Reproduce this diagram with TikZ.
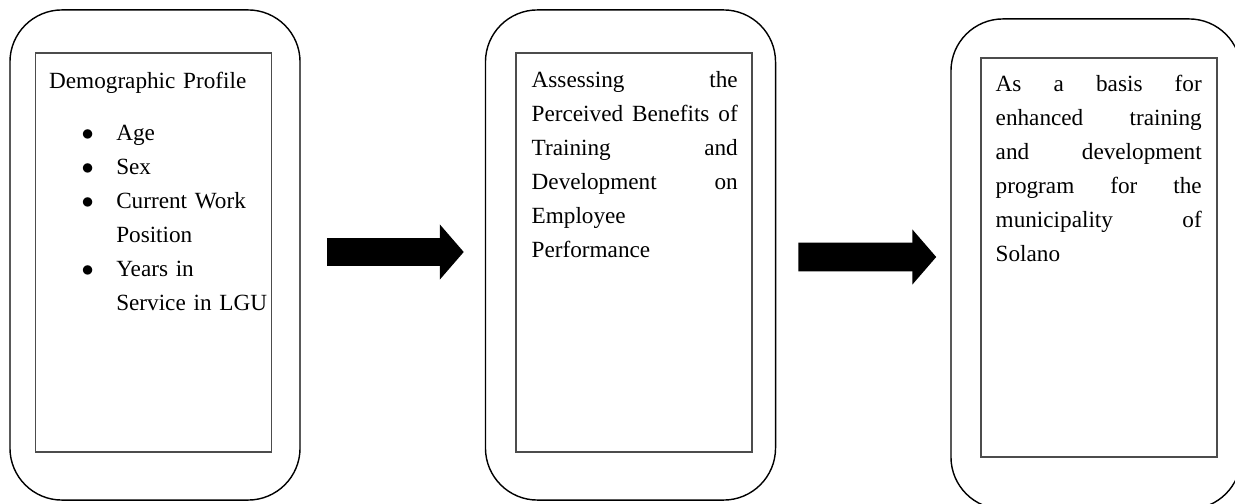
\documentclass[tikz,border=0pt]{standalone}
\usepackage{fontspec}
\setmainfont{Liberation Serif}
\usetikzlibrary{arrows.meta}
\newcommand{\bul}{\hspace*{23pt}\makebox[24.7pt][l]{$\bullet$}}
\newcommand{\cont}{\hspace*{47.7pt}}

\begin{document}
\begin{tikzpicture}[
  x=0.025cm, y=-0.025cm,
  outerbox/.style={rectangle, rounded corners=1.3cm, draw, line width=1pt,
    minimum width=7.25cm, minimum height=12.25cm},
  innerbox/.style={rectangle, draw=black!70, line width=0.8pt,
    minimum width=5.9cm, minimum height=9.975cm},
  bodytext/.style={anchor=base west, inner sep=0pt, text width=5.15cm, align=left,
    font=\fontsize{16.5}{24.2}\selectfont},
  blockarrow/.style={line width=0.72cm, -{Triangle[length=0.6cm, width=1.35cm]}}
]
\path[use as bounding box, clip] (0,0) rectangle (1235,504);

% outer frames
\node[outerbox] (demo) at (155,255) {};
\node[outerbox] (assess) at (630.5,255) {};
\node[outerbox] (basis) at (1096,264) {};

% inner frames
\node[innerbox] (demoin) at (153.5,252.5) {};
\node[innerbox] (assessin) at (634,252.5) {};
\node[innerbox] (basisin) at (1099,257.5) {};

% texts
\node[bodytext, text width=6cm] (demotext) at ([xshift=0.35cm, yshift=-0.9cm]demoin.north west)
  {Demographic Profile\\[12.8pt]
   \bul Age\\
   \bul Sex\\
   \bul Current Work\\
   \cont Position\\
   \bul Years in\\
   \cont Service in LGU};
\node[bodytext] (assesstext) at ([xshift=0.4cm, yshift=-0.875cm]assessin.north west)
  {Assessing\hfill the\\
   Perceived\hfill Benefits\hfill of\\
   Training\hfill and\\
   Development\hfill on\\
   Employee\\
   Performance};
\node[bodytext] (basistext) at ([xshift=0.375cm, yshift=-0.85cm]basisin.north west)
  {As\hfill a\hfill basis\hfill for\\
   enhanced\hfill training\\
   and\hfill development\\
   program\hfill for\hfill the\\
   municipality\hfill of\\
   Solano};

% arrows
\draw[blockarrow] ([xshift=0.65cm, yshift=0.075cm]demo.east) -- ([xshift=-0.525cm, yshift=0.075cm]assess.west);
\draw[blockarrow] ([xshift=0.55cm, yshift=-0.05cm]assess.east) -- ([xshift=-0.35cm, yshift=0.175cm]basis.west);
\end{tikzpicture}
\end{document}
